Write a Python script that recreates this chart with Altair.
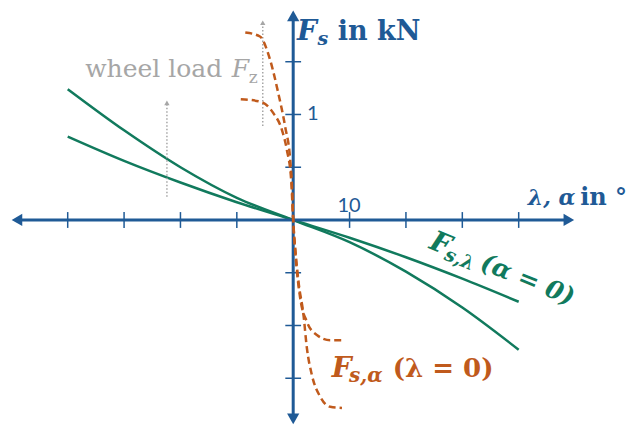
import altair as alt
import pandas as pd

# Lateral force vs. longitudinal slip (alpha = 0), two wheel loads
lam_deg = [-40, -30, -20, -10, 0, 10, 20, 30, 40]
fs_lam_high = [1.24, 0.85, 0.50, 0.21, 0.0, -0.21, -0.49, -0.83, -1.23]
fs_lam_low = [0.79, 0.56, 0.355, 0.168, 0.0, -0.168, -0.353, -0.556, -0.775]

# Lateral force vs. slip angle (lambda = 0), two wheel loads
alpha_high = [-8.5, -5.9, -4.1, -2.66, -1.42, -0.53, -0.18, 0.0,
              0.36, 0.94, 1.83, 2.43, 3.32, 4.8, 6.57, 8.65]
fs_alpha_high = [1.777, 1.739, 1.518, 1.205, 0.882, 0.569, 0.285, 0.0,
                 -0.266, -0.585, -0.901, -1.214, -1.47, -1.676, -1.771, -1.781]
alpha_low = [-9.3, -5.86, -3.55, -2.0, -1.12, -0.36, 0.0,
             0.36, 1.24, 2.43, 4.2, 6.57, 9.2]
fs_alpha_low = [1.145, 1.122, 1.015, 0.854, 0.664, 0.38, 0.0,
                -0.3, -0.74, -0.965, -1.09, -1.139, -1.139]

# Axis ticks (degrees / kN)
x_ticks = [-40, -30, -20, -10, 10, 20, 30, 40]
y_ticks = [-1.5, -1.0, -0.5, 0.5, 1.0, 1.5]

# "wheel load" arrows: position, start and tip
load_x = [-22.4, -5.4]
load_from = [0.22, 0.89]
load_to = [1.14, 1.90]

BLUE = "#1f5a96"
GREEN = "#117a5d"
ORANGE = "#c05a1c"
GRAY = "#a6a6a6"
SERIF = "DejaVu Serif"
SANS = "Lato"

X = alt.Scale(domain=[-52.01, 59.39], nice=False, zero=False)
Y = alt.Scale(domain=[-1.962, 2.085], nice=False, zero=False)


def xq(f="x"):
    return alt.X(f"{f}:Q", scale=X, axis=None)


def yq(f="y"):
    return alt.Y(f"{f}:Q", scale=Y, axis=None)


# coordinate axes with arrowheads
axis_h = alt.Chart(pd.DataFrame({"x": [-49.0], "x2": [49.0], "y": [0.0]})).mark_rule(
    color=BLUE, strokeWidth=3).encode(x=xq(), x2="x2:Q", y=yq())
axis_v = alt.Chart(pd.DataFrame({"x": [0.0], "y": [-1.89], "y2": [1.94]})).mark_rule(
    color=BLUE, strokeWidth=3).encode(x=xq(), y=yq(), y2="y2:Q")
heads = alt.Chart(pd.DataFrame({
    "x": [-49.0, 48.9, 0.0, 0.0],
    "y": [0.0, 0.0, 1.935, -1.885],
    "shape": ["triangle-left", "triangle-right", "triangle-up", "triangle-down"],
})).mark_point(filled=True, opacity=1, color=BLUE, size=150).encode(
    x=xq(), y=yq(), shape=alt.Shape("shape:N", scale=None))

xt = alt.Chart(pd.DataFrame({"x": x_ticks})).transform_calculate(
    lo="-0.075", hi="0.075").mark_rule(color=BLUE, strokeWidth=1.5).encode(
    x=xq(), y=yq("lo"), y2="hi:Q")
yt = alt.Chart(pd.DataFrame({"y": y_ticks})).transform_calculate(
    lo="-1.4", hi="1.4").mark_rule(color=BLUE, strokeWidth=1.5).encode(
    y=yq(), x=xq("lo"), x2="hi:Q")

# characteristic curves
lam_df = pd.DataFrame({
    "x": lam_deg * 2,
    "y": fs_lam_high + fs_lam_low,
    "c": ["high"] * len(lam_deg) + ["low"] * len(lam_deg),
})
lam_lines = alt.Chart(lam_df).mark_line(
    color=GREEN, strokeWidth=2.5, interpolate="monotone").encode(
    x=xq(), y=yq(), detail="c:N")

alpha_df = pd.DataFrame({
    "x": alpha_high + alpha_low,
    "y": fs_alpha_high + fs_alpha_low,
    "c": ["high"] * len(alpha_high) + ["low"] * len(alpha_low),
})
alpha_lines = alt.Chart(alpha_df).mark_line(
    color=ORANGE, strokeWidth=2.5, strokeDash=[7, 4], interpolate="monotone").encode(
    x=xq(), y=yq(), detail="c:N")

# wheel-load arrows
load_df = pd.DataFrame({"x": load_x, "y": load_from, "y2": [t - 0.04 for t in load_to],
                        "tip": [t - 0.03 for t in load_to]})
load_lines = alt.Chart(load_df).mark_rule(
    color=GRAY, strokeWidth=1.5, strokeDash=[1.5, 2]).encode(x=xq(), y=yq(), y2="y2:Q")
load_heads = alt.Chart(load_df).mark_point(
    filled=True, opacity=1, color=GRAY, shape="triangle-up", size=28).encode(
    x=xq(), y=yq("tip"))


def label(x, y, s, size, color, style="normal", weight="normal", font=SERIF,
          angle=0, align="left", baseline="alphabetic"):
    return alt.Chart(pd.DataFrame({"x": [x], "y": [y], "t": [s]})).mark_text(
        font=font, fontSize=size, fontStyle=style, fontWeight=weight, color=color,
        angle=angle, align=align, baseline=baseline).encode(x=xq(), y=yq(), text="t:N")


texts = [
    # y-axis title
    label(0.67, 1.71, "F", 28, BLUE, "italic", "bold"),
    label(4.3, 1.655, "s", 19, BLUE, "italic", "bold"),
    label(7.9, 1.71, "in kN", 27, BLUE, "normal", "bold"),
    # x-axis title
    label(41.6, 0.142, "λ, α", 22, BLUE, "italic", "bold"),
    label(50.9, 0.142, "in °", 24, BLUE, "normal", "bold"),
    # tick labels
    label(9.9, 0.079, "10", 20, BLUE, font=SANS, align="center"),
    label(2.45, 1.0, "1", 20, BLUE, font=SANS, baseline="middle"),
    # wheel load
    label(-36.9, 1.352, "wheel load", 25, GRAY),
    label(-10.9, 1.352, "F", 25, GRAY, "italic"),
    label(-7.9, 1.300, "z", 17, GRAY),
    # slip-angle curve label
    label(6.83, -1.485, "F", 28, ORANGE, "italic", "bold"),
    label(9.9, -1.535, "s,α", 20, ORANGE, "italic", "bold"),
    label(17.65, -1.485, "(λ = 0)", 26, ORANGE, "normal", "bold"),
    # longitudinal-slip curve label (rotated along the line)
    label(23.91, -0.265, "F", 28, GREEN, "italic", "bold", angle=22),
    label(26.6, -0.372, "s,λ", 19, GREEN, "italic", "bold", angle=22),
    label(32.96, -0.461, "(α = 0)", 25, GREEN, "italic", "bold", angle=22),
]

chart = alt.layer(
    lam_lines, load_lines, load_heads, axis_h, axis_v, xt, yt, heads, alpha_lines, *texts
).properties(
    width=628, height=427, autosize=alt.AutoSizeParams(type="none"), padding=0,
    background="white",
).configure_view(stroke=None)

chart.save("out.html", embed_options={"renderer": "svg", "actions": False})
